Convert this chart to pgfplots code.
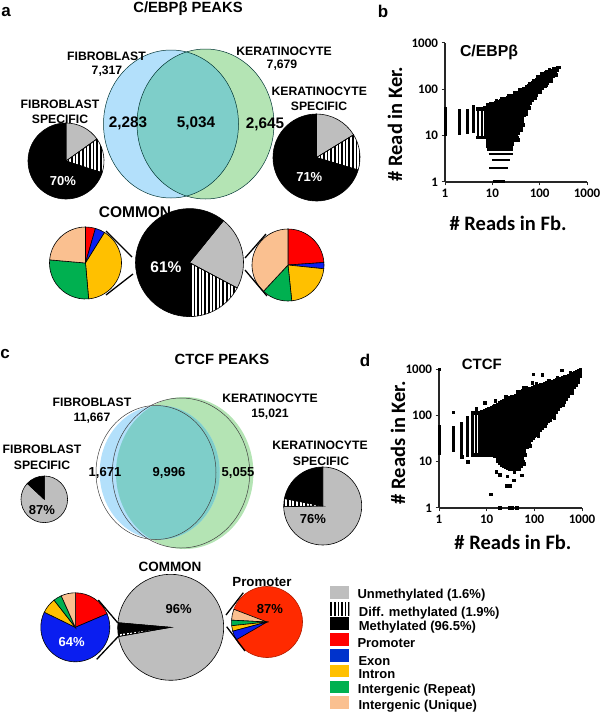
\documentclass[border=0pt]{standalone}
\usepackage{fontspec}
\setmainfont{Liberation Sans}
\newfontfamily\calfont{Carlito}
\usepackage{pgfplots}
\pgfplotsset{compat=1.18}
\usetikzlibrary{patterns.meta}

\definecolor{cgrey}{HTML}{BEBEBE}
\definecolor{cred}{HTML}{FF0000}
\definecolor{cred2}{HTML}{FF2A00}
\definecolor{cblue}{HTML}{0A1EF0}
\definecolor{cblue2}{HTML}{0033CC}
\definecolor{cyel}{HTML}{FFC000}
\definecolor{cgreen}{HTML}{00B050}
\definecolor{cpeach}{HTML}{FAC090}
\definecolor{vblue}{HTML}{B3E0FB}
\definecolor{vgreen}{HTML}{B4E4B4}
\definecolor{vteal}{HTML}{7ECEC9}

\tikzset{hatch/.style={pattern={Lines[angle=90,distance=3.6pt,line width=1.7pt]},pattern color=black}}

% text in pixel coordinates: size, x, y, colour, text
\newcommand{\lab}[5]{\node[inner sep=0pt,text=#4,font=\fontsize{#1}{#1}\selectfont\bfseries] at (axis cs:#2,#3) {#5};}
\newcommand{\leglab}[4]{\node[inner sep=0pt,anchor=west,font=\fontsize{13}{13}\selectfont\bfseries] at (axis cs:#1,#2) {#3#4};}
% pie slice: cx, cy, r, start, end (degrees), style
\newcommand{\slice}[6]{\path[draw=black,line width=0.6pt,#6] (axis cs:#1,#2) -- ++(#4:#3pt) arc[start angle=#4,end angle=#5,radius=#3pt] -- cycle;}
\newcommand{\legbox}[3]{\path[#3] (axis cs:330,#1) rectangle (axis cs:349.3,#2);}
\newcommand{\conn}[4]{\draw[line width=1.3pt,black] (axis cs:#1,#2) -- (axis cs:#3,#4);}

\pgfplotsset{panelaxis/.style={
  scale only axis,xmin=1,xmax=1000,ymin=1,ymax=1000,
  axis x line*=bottom,axis y line*=left,axis line style={-,line width=1.1pt,black!85},
  xtick={1,10,100,1000},ytick={1,10,100,1000},
  xticklabels={1,10,100,1000},yticklabels={1,10,100,1000},
  xminorticks=false,yminorticks=false,
  tick align=outside,major tick length=3.5pt,tick style={line width=1pt,black!85},
  tick label style={font=\calfont\fontsize{13}{13}\selectfont\bfseries},
  label style={font=\calfont\fontsize{20.5}{20.5}\selectfont\bfseries}}}

\begin{document}
\begin{tikzpicture}
\useasboundingbox (0,0) rectangle (600pt,713pt);

\begin{axis}[at={(0,0)},anchor=south west,scale only axis,width=600pt,height=713pt,
  xmin=0,xmax=600,ymin=0,ymax=713,y dir=reverse,hide axis,clip=false]

% panel a
\lab{17}{6}{12}{black}{a}
\lab{14.8}{188}{9}{black}{C/EBPβ PEAKS}
% venn a
\fill[vblue] (axis cs:171,124) ellipse[x radius=67.5pt,y radius=74pt];
\fill[vgreen] (axis cs:205.5,124) ellipse[x radius=68.5pt,y radius=75pt];
\begin{scope}
\clip (axis cs:171,124) ellipse[x radius=67.5pt,y radius=74pt];
\fill[vteal] (axis cs:205.5,124) ellipse[x radius=68.5pt,y radius=75pt];
\end{scope}
\draw[black!60!teal,line width=0.5pt] (axis cs:171,124) ellipse[x radius=67.5pt,y radius=74pt];
\draw[black!60!teal,line width=0.5pt] (axis cs:205.5,124) ellipse[x radius=68.5pt,y radius=75pt];
\lab{12.2}{106.5}{56}{black}{FIBROBLAST}
\lab{12.2}{107}{71}{black}{7,317}
\lab{12.2}{284}{51}{black}{KERATINOCYTE}
\lab{12.2}{282}{65}{black}{7,679}
\lab{12.2}{60}{104}{black}{FIBROBLAST}
\lab{12.2}{60}{119}{black}{SPECIFIC}
\lab{12.2}{319.3}{91}{black}{KERATINOCYTE}
\lab{12.2}{319}{106.7}{black}{SPECIFIC}
\lab{15.3}{128}{123}{black}{2,283}
\lab{15.3}{196}{123}{black}{5,034}
\lab{15.3}{265}{124}{black}{2,645}
% fibroblast specific
\slice{66}{161}{38}{90}{35.5}{fill=cgrey}
\slice{66}{161}{38}{35.5}{-18}{hatch}
\slice{66}{161}{38}{-18}{-270}{fill=black}
\lab{13}{63}{181}{white}{70\%}
% keratinocyte specific
\slice{316.5}{157.5}{43.5}{90}{31.5}{fill=cgrey}
\slice{316.5}{157.5}{43.5}{31.5}{-16.7}{hatch}
\slice{316.5}{157.5}{43.5}{-16.7}{-270}{fill=black}
\lab{13}{309.3}{177}{white}{71\%}
% common
\lab{15.5}{135}{212}{black}{COMMON}
\slice{189.5}{262.6}{54}{51}{-28}{fill=cgrey}
\slice{189.5}{262.6}{54}{-28}{-90}{hatch}
\slice{189.5}{262.6}{54}{-90}{-309}{fill=black}
\lab{15.5}{166}{267}{white}{61\%}
\slice{85.5}{263}{36}{90}{74}{fill=cred}
\slice{85.5}{263}{36}{74}{58}{fill=cblue}
\slice{85.5}{263}{36}{58}{-85}{fill=cyel}
\slice{85.5}{263}{36}{-85}{-185}{fill=cgreen}
\slice{85.5}{263}{36}{-185}{-270}{fill=cpeach}
\slice{288}{265}{36}{90}{4}{fill=cred}
\slice{288}{265}{36}{4}{-6}{fill=cblue}
\slice{288}{265}{36}{-6}{-84}{fill=cyel}
\slice{288}{265}{36}{-84}{-133}{fill=cgreen}
\slice{288}{265}{36}{-133}{-270}{fill=cpeach}
\conn{106}{231}{132}{257}
\conn{106}{295}{133}{274}
\conn{266}{234}{245}{258}
\conn{245}{270}{267}{296}

% panel c
\lab{17}{5}{354}{black}{c}
\lab{14.8}{222}{359}{black}{CTCF PEAKS}
\fill[vgreen] (axis cs:184.7,473) ellipse[x radius=68.7pt,y radius=76pt];
\fill[vblue] (axis cs:159.7,472.5) ellipse[x radius=60pt,y radius=67pt];
\begin{scope}
\clip (axis cs:159.7,472.5) ellipse[x radius=60pt,y radius=67pt];
\fill[vteal] (axis cs:184.7,473) ellipse[x radius=68.7pt,y radius=76pt];
\end{scope}
\draw[black!75,line width=0.5pt] (axis cs:156,472.5) ellipse[x radius=60pt,y radius=67pt];
\draw[black!75,line width=0.5pt] (axis cs:181,473) ellipse[x radius=68.7pt,y radius=75pt];
\lab{12.2}{92}{402}{black}{FIBROBLAST}
\lab{12.2}{92}{418}{black}{11,667}
\lab{12.2}{270}{398}{black}{KERATINOCYTE}
\lab{12.2}{270}{414}{black}{15,021}
\lab{12.2}{42}{449}{black}{FIBROBLAST}
\lab{12.2}{42}{465}{black}{SPECIFIC}
\lab{12.2}{320}{445}{black}{KERATINOCYTE}
\lab{12.2}{321}{461}{black}{SPECIFIC}
\lab{13}{105}{473}{black}{1,671}
\lab{13}{169}{473}{black}{9,996}
\lab{13}{238}{473}{black}{5,055}
\slice{44.3}{499.3}{23.3}{90}{-223}{fill=cgrey}
\slice{44.3}{499.3}{23.3}{137}{90}{fill=black}
\lab{13}{42}{510}{black}{87\%}
\slice{322.7}{506}{39}{90}{-179}{fill=cgrey}
\slice{322.7}{506}{39}{181}{169}{hatch}
\slice{322.7}{506}{39}{169}{90}{fill=black}
\lab{13}{313}{519}{black}{76\%}
% common c
\lab{13.5}{170}{566.7}{black}{COMMON}
\lab{13.3}{262}{581.7}{black}{Promoter}
\slice{170.7}{627.3}{53}{175}{-170}{fill=cgrey}
\slice{170.7}{627.3}{53}{175}{187}{fill=black}
\slice{170.7}{627.3}{53}{187}{190}{hatch}
\lab{13}{178.7}{609}{black}{96\%}
\slice{75.3}{627.3}{34.5}{90}{23}{fill=cred}
\slice{75.3}{627.3}{34.5}{23}{-206}{fill=cblue}
\slice{75.3}{627.3}{34.5}{-206}{-232}{fill=cyel}
\slice{75.3}{627.3}{34.5}{-232}{-246}{fill=cgreen}
\slice{75.3}{627.3}{34.5}{-246}{-270}{fill=cpeach}
\lab{13}{71.7}{641.7}{white}{64\%}
\slice{267}{622}{35.5}{210}{519}{fill=cred2,draw=cred2!70!black}
\slice{267}{622}{35.5}{159}{177}{fill=cpeach}
\slice{267}{622}{35.5}{177}{186}{fill=cgreen}
\slice{267}{622}{35.5}{186}{195}{fill=cyel}
\slice{267}{622}{35.5}{195}{210}{fill=cblue}
\lab{13}{270}{609.3}{black}{87\%}
\conn{98.3}{600}{117.7}{622.7}
\conn{96.7}{659.3}{118.7}{636}
\conn{243.3}{592.7}{226}{615}
\conn{226.7}{626.7}{245}{651}

% legend
\legbox{586.3}{598.7}{fill=cgrey}
\legbox{602.3}{615}{hatch}
\legbox{617.3}{630}{fill=black}
\legbox{633.3}{646}{fill=cred}
\legbox{649}{661.7}{fill=cblue2}
\legbox{664.7}{677.3}{fill=cyel}
\legbox{680.7}{693.3}{fill=cgreen}
\legbox{696.3}{709}{fill=cpeach}
\leglab{357.3}{595}{Unmethylated (1.6\%)}{}
\leglab{358.7}{613.3}{Diff. methylated (1.9\%)}{}
\leglab{358.7}{627.3}{Methylated (96.5\%)}{}
\leglab{357.3}{642.7}{Promoter}{}
\leglab{358.3}{660.7}{Exon}{}
\leglab{358.3}{674.3}{Intron}{}
\leglab{357.7}{690}{Intergenic (Repeat)}{}
\leglab{358.3}{705.7}{Intergenic (Unique)}{}

\lab{17}{383}{11}{black}{b}
\lab{17}{365}{360}{black}{d}
\end{axis}

% panel b: each block is one read count in Fb. with the range of reads in Ker.
\begin{loglogaxis}[panelaxis,clip=false,at={(445pt,531pt)},anchor=south west,width=142pt,height=139pt,
  xlabel={\# Reads in Fb.},ylabel={\# Read in Ker.},
  xlabel style={at={(axis description cs:0.444,-0.295)},anchor=center},
  ylabel style={at={(axis description cs:-0.352,0.417)},anchor=center}]
\addplot[black,line width=2.6pt,forget plot] coordinates {(1.02,10) (1.02,41)};
\addplot[black,line width=2.6pt,mark=square*,mark size=1.2pt,mark options={line width=0pt},unbounded coords=jump] table[empty line=jump] {
x y
2 11
2 34

3 12
3 35

4 12.4
4 42

5 9.2
5 38

6 9.2
6 38

7 9.2
7 40

8 6
8 47

9 6
9 47

10 6
10 49

11 6
11 50

12 6
12 52

13 6
13 53

14 6
14 55

15 6
15 58

17 6
17 62

19 6
19 64

21 6
21 66

23 6
23 68

25 6
25 70

27 6.5
27 73

30 8
30 77

33 9
33 81

36 11
36 85

40 14
40 90

44 20
44 96

48 27
48 103

53 35
53 112

58 42
58 120

64 50
64 128

70 57
70 137

77 66
77 148

85 75
85 160

93 85
93 172

102 95
102 186

112 105
112 198

123 115
123 210

135 125
135 225

148 138
148 238

163 150
163 246

180 170
180 255

198 195
198 265

218 215
218 275

240 260
240 290

260 300
};
% the low counts in Ker. make horizontal bands
\addplot[black,line width=2.6pt,unbounded coords=jump] table[empty line=jump] {
x y
7.7 5
27 5

8.3 4
27 4

10 3
24 3

8.6 2
21 2

10.2 1.02
18.8 1.02
};
% loose points along the edge of the cloud
\addplot[only marks,mark=square*,mark size=1.3pt,black] coordinates {
(9,50) (12,56) (16,65) (22,72) (30,84) (38,97) (46,106) (60,133) (75,157) (90,185)
(110,218) (140,240) (160,262) (200,282) (35,8.2) (40,13) (45,17) (52,30) (60,40)
(80,65) (100,88) (130,118) (170,150) (220,205)
};
\node[inner sep=0pt,font=\fontsize{15.8}{15.8}\selectfont\bfseries] at (rel axis cs:0.31,0.935) {C/EBPβ};
\end{loglogaxis}

% panel d
\begin{loglogaxis}[panelaxis,clip=false,at={(439pt,205pt)},anchor=south west,width=143pt,height=139pt,
  xlabel={\# Reads in Fb.},ylabel={\# Reads in Ker.},
  xlabel style={at={(axis description cs:0.517,-0.245)},anchor=center},
  ylabel style={at={(axis description cs:-0.287,0.47)},anchor=center}]
\addplot[black,line width=2.6pt,forget plot] coordinates {(1.02,14) (1.02,62)};
\addplot[black,line width=2.6pt,mark=square*,mark size=1.2pt,mark options={line width=0pt},unbounded coords=jump] table[empty line=jump] {
x y
2 18
2 55

3 12.3
3 67

4 14
4 87

5 14
5 112

6 14
6 112

7 14
7 112

8 14
8 118

9 14
9 124

10 14
10 130

11 14
11 136

12 14
12 142

13 14
13 147

14 14
14 152

15 13
15 158

17 10
17 172

19 9
19 185

21 8.5
21 195

23 8
23 208

25 7.5
25 222

27 7.1
27 232

30 7
30 243

33 7
33 252

36 7
36 258

40 7
40 270

44 7
44 285

48 7
48 300

53 8
53 320

58 10
58 335

64 14
64 345

70 20
70 355

77 26
77 370

85 29
85 385

93 32
93 400

102 35
102 412

112 38
112 425

123 42
123 440

135 48
135 455

148 52
148 468

163 60
163 480

180 68
180 495

198 74
198 510

218 80
218 525

240 90
240 540

264 100
264 560

290 115
290 580

320 135
320 600

350 155
350 620

385 172
385 650

425 195
425 670

470 225
470 695

520 260
520 720

570 295
570 750

630 340
630 790

700 400
700 830

770 450
770 880

850 510
850 930

930 700
930 980
};
% stray peaks
\addplot[only marks,mark=square*,mark size=1.3pt,black] coordinates {
(2,117) (3,12.8) (4,10) (6,138) (9,189) (15,210) (34,255) (60,390) (94,780)
(147,750) (375,940) (570,820) (90,500) (16,6) (19,5.3) (27,4.9) (37,4) (55,5.1)
(38,6) (26,3) (30,3) (12,2) (19,1) (30,1) (34,1) (43,1) (1,1000)
(25,250) (45,320) (65,395) (110,480) (200,570) (300,650)
(60,9) (80,22) (120,36) (170,58) (260,90) (400,165) (600,310)
};
\node[inner sep=0pt,font=\fontsize{15}{15}\selectfont\bfseries] at (rel axis cs:0.30,1.03) {CTCF};
\end{loglogaxis}
\end{tikzpicture}
\end{document}
